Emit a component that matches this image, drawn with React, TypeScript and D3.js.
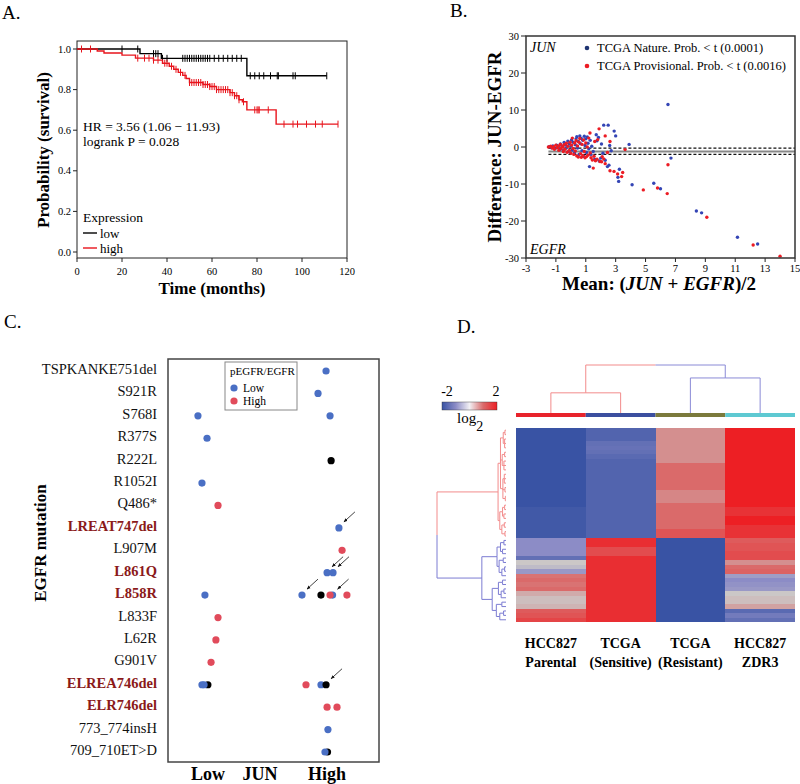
import React from 'react';
import * as d3 from 'd3';

// ---------------- Panel A data (Kaplan-Meier) ----------------
const kmLowSteps: [number, number][] = [[0, 1], [28, 0.977], [37.5, 0.954], [75.5, 0.868]];
const kmLowEnd = 111;
const kmLowCensor = [20, 27, 34, 35, 36, 38, 40, 47, 48, 49, 50, 51, 52, 53, 54, 55, 56, 57, 58, 59, 61, 63, 65, 67, 69, 71, 73, 77, 79, 81, 83, 86, 89, 89.5, 96, 97, 111];
const kmHighSteps: [number, number][] = [[0, 1], [9, 0.99], [12, 0.98], [20, 0.97], [26, 0.955], [34, 0.945], [38, 0.93], [41, 0.915], [43, 0.9], [45, 0.885], [47, 0.87], [48.5, 0.855], [50, 0.835], [56, 0.825], [59, 0.815], [62, 0.8], [68, 0.785], [70, 0.77], [72, 0.75], [73.5, 0.74], [75.5, 0.7], [88.5, 0.63]];
const kmHighEnd = 116;
const kmHighCensor = [2, 6, 27, 30, 32, 34, 36, 39, 40, 42, 44, 46, 48, 50, 51, 52, 53, 54, 55, 56, 57, 58, 59, 60, 61, 62, 63, 64, 65, 66, 67, 68, 69, 70, 71, 72, 74, 79, 80, 80.5, 81, 85, 92, 96, 98, 102, 106, 109, 116];
const kmXTicks = [0, 20, 40, 60, 80, 100, 120];
const kmYTicks = [0, 0.2, 0.4, 0.6, 0.8, 1.0];

// ---------------- Panel B data (Bland-Altman) ----------------
const baNature: [number, number][] = [[-1.45, 0.1], [-1.3, -0.2], [-1.2, 0.3], [-1.05, -0.4], [-0.95, 0.5], [-0.85, 0.0], [-0.75, -0.7], [-0.7, 0.8], [-0.6, 0.3], [-0.5, -0.9], [-0.45, 1.2], [-0.35, 0.5], [-0.3, -0.3], [-0.2, 1.6], [-0.15, -1.2], [-0.1, 0.9], [0.0, 0.2], [0.05, 1.9], [0.1, -0.8], [0.15, 1.3], [0.25, -1.6], [0.3, 0.6], [0.35, 2.2], [0.4, 2.8], [0.45, -0.3], [0.5, 1.5], [0.55, -2.0], [0.6, 3.0], [0.65, 0.9], [0.7, 2.3], [0.75, -1.0], [0.8, 1.8], [0.85, -2.5], [0.9, 2.9], [0.95, 0.4], [1.0, 2.2], [1.05, -1.5], [1.1, 2.7], [1.15, 1.0], [1.2, -0.5], [1.25, -5.3], [1.3, 1.8], [1.35, -2.0], [1.4, 0.2], [1.5, -1.2], [1.6, -3.3], [1.7, 3.3], [1.75, 1.7], [1.85, 2.6], [1.9, -3.8], [2.0, -3.0], [2.05, 0.8], [2.15, -1.7], [2.2, 5.9], [2.3, -3.6], [2.45, -5.3], [2.5, 5.9], [2.55, -4.9], [2.6, 0.4], [2.7, -1.0], [2.9, 4.3], [3.0, 3.0], [3.15, -8.2], [3.2, -9.3], [3.25, -6.0], [3.9, 0.7], [4.1, -10.2], [5.55, -9.8], [6.0, -11.3], [6.5, 11.5], [6.7, -3.0], [8.4, -17.3], [8.75, -17.8], [11.15, -24.4], [12.5, -26.2]];
const baProvisional: [number, number][] = [[-1.5, 0.0], [-1.35, 0.2], [-1.25, -0.3], [-1.15, 0.1], [-1.1, -0.6], [-1.0, 0.5], [-0.9, -0.2], [-0.8, 0.3], [-0.8, -0.9], [-0.7, 0.7], [-0.65, -0.4], [-0.55, 0.1], [-0.5, -1.2], [-0.45, 0.6], [-0.4, -0.6], [-0.3, 1.0], [-0.25, -1.4], [-0.2, 0.2], [-0.1, -0.9], [-0.05, 1.3], [0.0, -1.7], [0.05, 0.5], [0.1, 2.4], [0.15, -0.4], [0.2, -2.0], [0.25, 1.1], [0.3, -1.1], [0.35, 1.7], [0.4, -2.4], [0.45, 0.3], [0.5, -2.7], [0.55, 1.3], [0.6, 2.3], [0.65, -1.8], [0.7, -2.8], [0.75, 0.7], [0.8, -2.3], [0.85, 1.9], [0.9, -1.2], [0.95, -2.9], [1.0, 1.1], [1.05, -2.6], [1.1, 0.0], [1.15, -2.2], [1.2, 2.4], [1.28, 3.8], [1.3, -1.6], [1.35, -2.9], [1.44, -3.5], [1.5, -5.7], [1.55, -2.5], [1.6, 1.5], [1.65, -3.7], [1.75, -3.3], [1.8, 2.0], [1.89, 4.9], [1.95, -3.9], [2.06, -4.0], [2.1, -2.6], [2.2, -3.2], [2.3, 3.0], [2.3, -4.5], [2.45, -1.5], [2.62, 1.5], [2.62, -6.4], [2.89, -6.6], [3.13, -7.3], [3.4, -8.0], [3.47, -6.9], [3.63, -0.7], [4.85, -11.6], [5.8, -11.1], [6.45, -12.6], [6.5, -4.8], [9.1, -19.0], [12.2, -26.5], [14.0, -29.5]];
const baMeanDiff = -1.2;
const baLimits = [-0.3, -2.0];
const baXTicks = [-3, -1, 1, 3, 5, 7, 9, 11, 13, 15];
const baYTicks = [-30, -20, -10, 0, 10, 20, 30];

// ---------------- Panel C data ----------------
const mutations = ['TSPKANKE751del', 'S921R', 'S768I', 'R377S', 'R222L', 'R1052I', 'Q486*', 'LREAT747del', 'L907M', 'L861Q', 'L858R', 'L833F', 'L62R', 'G901V', 'ELREA746del', 'ELR746del', '773_774insH', '709_710ET>D'];
const highlighted = ['LREAT747del', 'L861Q', 'L858R', 'ELREA746del', 'ELR746del'];
// jun: position on JUN axis (0 = low side, 100 = high side); g: pEGFR/EGFR group
const mutPoints: { m: string; jun: number; g: 'low' | 'high' | 'na'; arrow?: boolean }[] = [
  { m: 'TSPKANKE751del', jun: 74.9, g: 'low' },
  { m: 'S921R', jun: 71.1, g: 'low' },
  { m: 'S768I', jun: 14.2, g: 'low' },
  { m: 'S768I', jun: 76.8, g: 'low' },
  { m: 'R377S', jun: 18.5, g: 'low' },
  { m: 'R222L', jun: 77.3, g: 'na' },
  { m: 'R1052I', jun: 16.1, g: 'low' },
  { m: 'Q486*', jun: 23.7, g: 'high' },
  { m: 'LREAT747del', jun: 81.0, g: 'low', arrow: true },
  { m: 'L907M', jun: 82.5, g: 'high' },
  { m: 'L861Q', jun: 75.4, g: 'low', arrow: true },
  { m: 'L861Q', jun: 78.2, g: 'low', arrow: true },
  { m: 'L858R', jun: 17.5, g: 'low' },
  { m: 'L858R', jun: 63.5, g: 'low', arrow: true },
  { m: 'L858R', jun: 72.5, g: 'na' },
  { m: 'L858R', jun: 78.0, g: 'low', arrow: true },
  { m: 'L858R', jun: 76.8, g: 'high' },
  { m: 'L858R', jun: 84.8, g: 'high' },
  { m: 'L833F', jun: 23.7, g: 'high' },
  { m: 'L62R', jun: 22.7, g: 'high' },
  { m: 'G901V', jun: 20.4, g: 'high' },
  { m: 'ELREA746del', jun: 18.9, g: 'na' },
  { m: 'ELREA746del', jun: 16.1, g: 'low' },
  { m: 'ELREA746del', jun: 17.1, g: 'low' },
  { m: 'ELREA746del', jun: 65.4, g: 'high' },
  { m: 'ELREA746del', jun: 72.5, g: 'low' },
  { m: 'ELREA746del', jun: 74.9, g: 'na', arrow: true },
  { m: 'ELR746del', jun: 75.4, g: 'high' },
  { m: 'ELR746del', jun: 80.1, g: 'high' },
  { m: '773_774insH', jun: 75.8, g: 'low' },
  { m: '709_710ET>D', jun: 75.6, g: 'na' },
  { m: '709_710ET>D', jun: 74.4, g: 'low' },
];

// ---------------- Panel D data (heatmap) ----------------
const hmColumns = [['HCC827', 'Parental'], ['TCGA', '(Sensitive)'], ['TCGA', '(Resistant)'], ['HCC827', 'ZDR3']];
const hmColumnColors = ['#e8232b', '#3b4f9f', '#7b7a3c', '#5ec9d2'];
const hmCol1 = [-2, -2, -2, -2, -2, -2, -2, -2, -2, -2, -2, -2, -2, -2, -2, -2, -2, -2, -1.9, -1.9, -1.9, -1.9, -1.9, -1.9, -1.9, -1.0, -1.0, -1.0, -1.0, -1.5, 0, -0.2, -0.8, 0.9, 1.0, 0.9, 1.0, 0.3, 0.1, 0.1, 0.2, 1.2, 1.3, 1.5];
const hmCol2 = [-1.7, -1.7, -1.7, -1.5, -1.45, -1.5, -1.6, -1.7, -1.7, -1.7, -1.7, -1.7, -1.7, -1.7, -1.7, -1.7, -1.7, -1.7, -1.7, -1.7, -1.7, -1.7, -1.7, -1.7, -1.7, 1.8, 1.8, 1.4, 1.4, 1.8, 1.8, 1.8, 1.8, 1.8, 1.8, 1.8, 1.8, 1.8, 1.8, 1.8, 1.8, 1.8, 1.8, 1.8];
const hmCol3 = [0.6, 0.6, 0.6, 0.6, 0.6, 0.6, 0.6, 0.6, 1.0, 1.0, 1.0, 1.0, 1.0, 1.0, 0.7, 0.7, 0.7, 1.0, 1.0, 1.0, 1.0, 1.0, 1.0, 1.3, 1.3, -2, -2, -2, -2, -2, -2, -2, -2, -2, -2, -2, -2, -2, -2, -2, -2, -2, -2, -2];
const hmCol4 = [2, 2, 2, 2, 2, 2, 2, 2, 2, 2, 2, 2, 2, 2, 2, 2, 2, 2, 1.75, 1.75, 2, 2, 1.75, 1.75, 1.75, 1.2, 1.3, 1.3, 1.4, 1.4, 0.6, 1.0, 1.1, -0.7, -1.0, -0.9, -0.8, 0, 0.1, 0.1, 0.4, -1.6, -1.3, -1.5];
const hmValues = [hmCol1, hmCol2, hmCol3, hmCol4];
const colorStops = [-2, -1, 0, 1, 2];
const colorRange = ['#3953a4', '#8c8cc6', '#cbc7c7', '#da6a6a', '#ed1f24'];

type T = number | { h: number; c: T[] };
const N = (h: number, ...c: T[]): T => ({ h, c });
const rowTree = N(10,
  N(1.15,
    N(0.8,
      N(0.4, N(0.15, 0, 1), N(0.2, 2, 3, 4)),
      N(0.55, N(0.2, 5, 6), N(0.3, 7, 8, 9)),
      N(0.45, N(0.25, 10, 11, 12), N(0.15, 13, 14), N(0.1, 15, 16))),
    N(0.9,
      N(0.5, N(0.2, 17, 18), N(0.3, 19, 20)),
      N(0.6, N(0.25, 21, 22), N(0.15, 23, 24)))),
  N(3.5,
    N(1.3,
      N(0.8, N(0.3, 25, 26), N(0.5, 27, 28)),
      N(1.0, N(0.4, 29, 30), N(0.6, N(0.2, 31, 32), 33))),
    N(2.0,
      N(1.1, N(0.5, 34, 35), N(0.7, N(0.3, 36, 37), 38)),
      N(1.4, N(0.6, 39, 40), N(0.9, N(0.35, 41, 42), 43)))));
const colTree = N(10, N(4.2, 0, 1), N(7.3, 2, 3));

const FONT = "'Liberation Serif', 'Times New Roman', Times, serif";

type Seg = { a1: number; h1: number; a2: number; h2: number; color: string };
function dendro(node: T, leafP: (i: number) => number, hP: (h: number) => number, color: string | null, segs: Seg[], colors: string[]): { p: number; hp: number } {
  if (typeof node === 'number') return { p: leafP(node), hp: hP(0) };
  const kids = node.c.map((k, i) => dendro(k, leafP, hP, color ?? colors[i], segs, colors));
  const hp = hP(node.h);
  const p = (kids[0].p + kids[kids.length - 1].p) / 2;
  kids.forEach((k, i) => {
    const col = color ?? colors[i];
    segs.push({ a1: p, h1: hp, a2: k.p, h2: hp, color: col });
    segs.push({ a1: k.p, h1: hp, a2: k.p, h2: k.hp, color: col });
  });
  return { p, hp };
}

function PanelA() {
  const x = d3.scaleLinear().domain([0, 120]).range([77, 347]);
  const y = d3.scaleLinear().domain([0, 1]).range([252, 49]);
  const line = d3.line<[number, number]>().x(d => x(d[0])).y(d => y(d[1])).curve(d3.curveStepAfter);
  const surv = (steps: [number, number][], t: number) => { let s = 1; for (const [tt, ss] of steps) if (tt <= t) s = ss; return s; };
  const curve = (steps: [number, number][], end: number, censor: number[], color: string) => (
    <g>
      <path d={line([...steps, [end, steps[steps.length - 1][1]]])!} fill="none" stroke={color} strokeWidth={1.4} />
      {censor.map((t, i) => (
        <line key={i} x1={x(t)} x2={x(t)} y1={y(surv(steps, t)) - 3.5} y2={y(surv(steps, t)) + 3.5} stroke={color} strokeWidth={1} />
      ))}
    </g>
  );
  return (
    <g>
      <text x={2} y={19} fontSize={19}>A.</text>
      <rect x={77} y={41} width={270} height={217} fill="none" stroke="#222" strokeWidth={1} />
      {kmYTicks.map(t => (
        <g key={t}>
          <line x1={73} x2={77} y1={y(t)} y2={y(t)} stroke="#222" />
          <text x={71} y={y(t) + 3.5} fontSize={10.5} textAnchor="end">{d3.format('.1f')(t)}</text>
        </g>
      ))}
      {kmXTicks.map(t => (
        <g key={t}>
          <line x1={x(t)} x2={x(t)} y1={258} y2={262} stroke="#222" />
          <text x={x(t)} y={275} fontSize={10.5} textAnchor="middle">{t}</text>
        </g>
      ))}
      {curve(kmLowSteps, kmLowEnd, kmLowCensor, '#000')}
      {curve(kmHighSteps, kmHighEnd, kmHighCensor, '#e8141c')}
      <text x={83} y={131} fontSize={13.5}>HR = 3.56 (1.06 − 11.93)</text>
      <text x={83} y={146} fontSize={13.5}>logrank P = 0.028</text>
      <text x={83} y={222} fontSize={13.5}>Expression</text>
      <line x1={83} x2={97} y1={233} y2={233} stroke="#000" strokeWidth={1.4} />
      <text x={100} y={238} fontSize={13}>low</text>
      <line x1={83} x2={97} y1={248} y2={248} stroke="#e8141c" strokeWidth={1.4} />
      <text x={100} y={253} fontSize={13}>high</text>
      <text transform="translate(49,150) rotate(-90)" fontSize={17} fontWeight="bold" textAnchor="middle">Probability (survival)</text>
      <text x={212} y={294} fontSize={17} fontWeight="bold" textAnchor="middle">Time (months)</text>
    </g>
  );
}

function PanelB() {
  const x = d3.scaleLinear().domain([-3, 15]).range([526, 795]);
  const y = d3.scaleLinear().domain([-30, 30]).range([258, 36]);
  return (
    <g>
      <text x={450} y={17} fontSize={19}>B.</text>
      {baXTicks.map(t => (
        <g key={t}>
          <line x1={x(t)} x2={x(t)} y1={258} y2={262} stroke="#222" />
          <text x={x(t)} y={272} fontSize={10.5} textAnchor="middle">{t}</text>
        </g>
      ))}
      {baYTicks.map(t => (
        <g key={t}>
          <line x1={521} x2={526} y1={y(t)} y2={y(t)} stroke="#222" />
          <text x={519} y={y(t) + 3.5} fontSize={10.5} textAnchor="end">{t}</text>
        </g>
      ))}
      <line x1={x(-1.5)} x2={x(15)} y1={y(baMeanDiff)} y2={y(baMeanDiff)} stroke="#888" strokeWidth={2} />
      {baLimits.map((l, i) => (
        <line key={i} x1={x(-1.5)} x2={x(15)} y1={y(l)} y2={y(l)} stroke="#111" strokeWidth={1.2} strokeDasharray="3,2" />
      ))}
      {baNature.map((d, i) => <circle key={'n' + i} cx={x(d[0])} cy={y(d[1])} r={1.7} fill="#3445b5" />)}
      {baProvisional.map((d, i) => <circle key={'p' + i} cx={x(d[0])} cy={y(d[1])} r={1.7} fill="#ec1c24" />)}
      <rect x={526} y={36} width={269} height={222} fill="none" stroke="#333" strokeWidth={1.5} />
      <text x={530} y={52} fontSize={14} fontStyle="italic">JUN</text>
      <text x={530} y={254} fontSize={14} fontStyle="italic">EGFR</text>
      <circle cx={587} cy={48} r={2.3} fill="#1f3472" />
      <text x={597} y={52} fontSize={12.5}>TCGA Nature.  Prob. &lt; t (0.0001)</text>
      <circle cx={587} cy={66} r={2.3} fill="#ec1c24" />
      <text x={597} y={70} fontSize={12.5}>TCGA Provisional. Prob. &lt; t (0.0016)</text>
      <text transform="translate(501,147) rotate(-90)" fontSize={19} fontWeight="bold" textAnchor="middle">Difference: JUN-EGFR</text>
      <text x={659} y={290} fontSize={19} fontWeight="bold" textAnchor="middle">
        <tspan>Mean: (</tspan><tspan fontStyle="italic">JUN</tspan><tspan> + </tspan><tspan fontStyle="italic">EGFR</tspan><tspan>)/2</tspan>
      </text>
    </g>
  );
}

function PanelC() {
  const x = d3.scaleLinear().domain([0, 100]).range([168, 379]);
  const y = d3.scalePoint<string>().domain(mutations).range([369, 750]);
  const colorOf = (g: string) => (g === 'low' ? '#4a6fc4' : g === 'high' ? '#e14b5b' : '#000');
  return (
    <g>
      <defs>
        <marker id="arrowC" viewBox="0 0 10 10" refX={9} refY={5} markerWidth={5} markerHeight={5} orient="auto">
          <path d="M0,1 L10,5 L0,9 z" fill="#111" />
        </marker>
      </defs>
      <text x={4} y={328} fontSize={19}>C.</text>
      <rect x={168} y={359} width={211} height={403} fill="none" stroke="#444" strokeWidth={1.5} />
      {mutations.map(m => {
        const hl = highlighted.includes(m);
        return (
          <text key={m} x={157} y={y(m)! + 5} fontSize={14.5} textAnchor="end" fontWeight={hl ? 'bold' : 'normal'} fill={hl ? '#8b1a1a' : '#111'}>{m}</text>
        );
      })}
      {mutPoints.map((p, i) => (
        <circle key={i} cx={x(p.jun)} cy={y(p.m)! + 2} r={3.6} fill={colorOf(p.g)} />
      ))}
      {mutPoints.filter(p => p.arrow).map((p, i) => (
        <line key={'a' + i} x1={x(p.jun) + 16} y1={y(p.m)! - 14} x2={x(p.jun) + 5} y2={y(p.m)! - 4} stroke="#111" strokeWidth={0.8} markerEnd="url(#arrowC)" />
      ))}
      <rect x={225} y={362} width={72} height={48} fill="#fff" stroke="#888" strokeWidth={1} />
      <text x={230} y={375} fontSize={11}>pEGFR/EGFR</text>
      <circle cx={234} cy={388} r={3.6} fill="#4a6fc4" />
      <text x={243} y={392} fontSize={11.5}>Low</text>
      <circle cx={234} cy={401} r={3.6} fill="#e14b5b" />
      <text x={243} y={405} fontSize={11.5}>High</text>
      <text transform="translate(46,543) rotate(-90)" fontSize={17} fontWeight="bold" textAnchor="middle">EGFR mutation</text>
      <text x={208} y={780} fontSize={18} fontWeight="bold" textAnchor="middle">Low</text>
      <text x={260} y={780} fontSize={18} fontWeight="bold" textAnchor="middle">JUN</text>
      <text x={327} y={780} fontSize={18} fontWeight="bold" textAnchor="middle">High</text>
    </g>
  );
}

function PanelD() {
  const nRows = hmCol1.length;
  const xb = d3.scaleBand<number>().domain(hmColumns.map((_, i) => i)).range([516, 795]);
  const yb = d3.scaleBand<number>().domain(d3.range(nRows)).range([428, 622]);
  const color = d3.scaleLinear<string>().domain(colorStops).range(colorRange).clamp(true);
  const rowSegs: Seg[] = [];
  dendro(rowTree, i => yb(i)! + yb.bandwidth() / 2, d3.scaleLinear().domain([0, 10]).range([506, 437]), null, rowSegs, ['#f28b8b', '#7c7cd2']);
  const colSegs: Seg[] = [];
  dendro(colTree, i => xb(i)! + xb.bandwidth() / 2, d3.scaleLinear().domain([0, 10]).range([413, 365]), null, colSegs, ['#f28b8b', '#8a8ad6']);
  const legX = d3.scaleLinear().domain([-2, 2]).range([442, 497]);
  return (
    <g>
      <text x={457} y={333} fontSize={19}>D.</text>
      <defs>
        <linearGradient id="hmGrad" x1="0" x2="1" y1="0" y2="0">
          {colorStops.map((s, i) => (
            <stop key={i} offset={(s + 2) / 4} stopColor={s === 0 ? '#f2f0f4' : colorRange[i]} />
          ))}
        </linearGradient>
      </defs>
      <rect x={legX(-2)} y={402} width={legX(2) - legX(-2)} height={8} fill="url(#hmGrad)" stroke="#333" strokeWidth={0.4} />
      <text x={legX(-2) + 5} y={396} fontSize={14} textAnchor="middle">-2</text>
      <text x={legX(2) - 1} y={396} fontSize={14} textAnchor="middle">2</text>
      <text x={457} y={423} fontSize={15}>log<tspan fontSize={14} dy={8}>2</tspan></text>
      {hmValues.map((col, ci) =>
        col.map((v, ri) => (
          <rect key={ci + '-' + ri} x={xb(ci)} y={yb(ri)} width={xb.bandwidth() + 0.3} height={yb.bandwidth() + 0.3} fill={color(v)} shapeRendering="crispEdges" />
        ))
      )}
      {hmColumnColors.map((c, i) => (
        <rect key={i} x={xb(i)} y={413} width={xb.bandwidth()} height={4} fill={c} />
      ))}
      {rowSegs.map((s, i) => (
        <line key={'r' + i} x1={s.h1} x2={s.h2} y1={s.a1} y2={s.a2} stroke={s.color} strokeWidth={1} />
      ))}
      {colSegs.map((s, i) => (
        <line key={'c' + i} x1={s.a1} x2={s.a2} y1={s.h1} y2={s.h2} stroke={s.color} strokeWidth={1} />
      ))}
      {hmColumns.map((lab, i) => (
        <text key={i} x={xb(i)! + xb.bandwidth() / 2} y={648} fontSize={14} fontWeight="bold" textAnchor="middle">
          <tspan x={xb(i)! + xb.bandwidth() / 2}>{lab[0]}</tspan>
          <tspan x={xb(i)! + xb.bandwidth() / 2} dy={19}>{lab[1]}</tspan>
        </text>
      ))}
    </g>
  );
}

export default function App() {
  return (
    <svg width={800} height={784} viewBox="0 0 800 784" style={{ position: 'absolute', left: 0, top: 0, background: '#fff' }} fontFamily={FONT}>
      <rect width={800} height={784} fill="#fff" />
      <PanelA />
      <PanelB />
      <PanelC />
      <PanelD />
    </svg>
  );
}
